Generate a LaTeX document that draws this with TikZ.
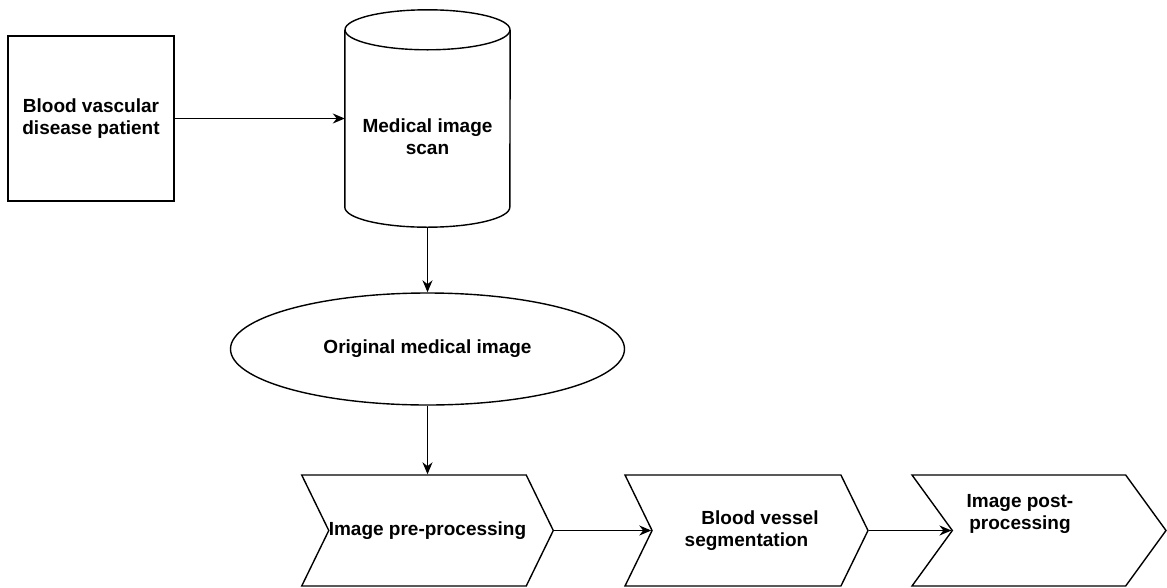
\documentclass[tikz,border=0pt]{standalone}
\usepackage{fontspec}
\setmainfont{Liberation Sans}
\usepackage{tikz}
\usetikzlibrary{shapes.geometric,shapes.symbols,arrows.meta}
\tikzset{box/.style={rectangle,draw,line width=1.4pt,inner sep=0pt,align=center}}
\tikzset{body/.style={rectangle,inner sep=0pt}}
\tikzset{rim/.style={line width=1.4pt}}
\tikzset{oval/.style={ellipse,draw,line width=1.4pt,inner sep=0pt,align=center}}
\tikzset{chevron/.style={signal,signal from=west,signal to=east,draw,line width=1.4pt,inner sep=0pt,minimum height=111pt,align=center}}
\tikzset{link/.style={line width=1.4pt,-{Stealth[length=12pt,width=10pt]}}}
\tikzset{txt/.style={font=\fontsize{19}{22}\selectfont\bfseries,align=center}}

\begin{document}
\begin{tikzpicture}[x=1pt,y=-1pt]
    \useasboundingbox (0,0) rectangle (1167,587);
    \node[box,minimum width=166pt,minimum height=165pt,txt] (patient) at (91,118.5) {Blood vascular\\disease patient};
    \node[body,minimum width=165pt,minimum height=177pt] (scan) at (427.5,118.5) {};
    \draw[rim] (scan.north west) -- (scan.south west) arc[start angle=180,end angle=360,x radius=82.5pt,y radius=20pt] -- (scan.north east);
    \draw[rim] (scan.north) ellipse[x radius=82.5pt,y radius=20pt];
    \coordinate (scanbase) at ([yshift=-20pt]scan.south);
    \node[txt] (scantxt) at (427.5,137) {Medical image\\scan};
    \node[oval,minimum width=394pt,minimum height=112pt,txt] (orig) at (427.5,349) {Original medical image};
    \node[chevron,minimum width=248pt,signal pointer angle=128,txt] (pre) at (427.5,530.5) {Image pre-processing};
    \node[chevron,minimum width=243pt,signal pointer angle=128,txt] (seg) at (746.5,530.5) {\hspace*{27pt}Blood vessel\\segmentation};
    \node[chevron,minimum width=254pt,signal pointer angle=108] (post) at (1039,530.5) {};
    \node[txt] (posttxt) at (1020,514) {Image post-\\processing};
    \draw[link] (patient) -- (scan.west);
    \draw[link] (scanbase) -- (orig.north);
    \draw[link] (orig.south) -- (pre.north);
    \draw[link] (pre.east) -- (seg.west);
    \draw[link] (seg.east) -- (post.west);
  \end{tikzpicture}
\end{document}
